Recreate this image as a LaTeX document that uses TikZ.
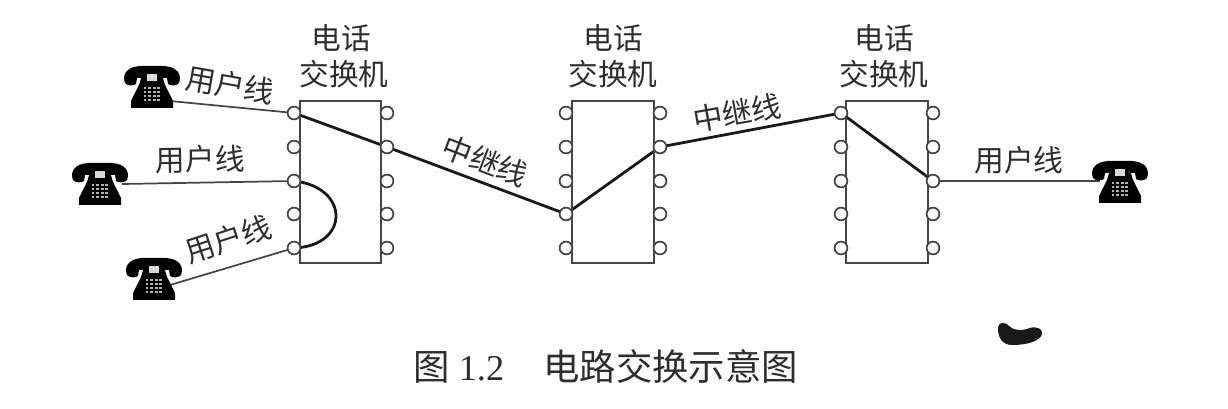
\documentclass[tikz,border=0pt]{standalone}
\usepackage{fontspec}
\setmainfont{Liberation Serif}
\newfontfamily\cjk{Noto Sans CJK SC}
\usetikzlibrary{backgrounds}
\definecolor{ink}{HTML}{2E2E2E}
\definecolor{wire}{HTML}{454545}
\tikzset{
  x=0.75pt,y=-0.75pt,
  switchbox/.style={draw=wire,line width=1.3pt,minimum width=61pt,minimum height=121.5pt,inner sep=0pt,outer sep=0pt},
  port/.style={circle,draw=wire,fill=white,line width=1.3pt,minimum size=9.6pt,inner sep=0pt,outer sep=0pt},
  thinwire/.style={draw=wire,line width=1.3pt},
  thickwire/.style={draw=black!90,line width=2.1pt},
  lbl/.style={font=\cjk\fontsize{22.3}{25}\selectfont,text=ink,inner sep=0pt},
  captext/.style={font=\fontsize{27.3}{30}\selectfont,text=ink,inner sep=0pt},
  phone/.style={minimum width=41pt,minimum height=32pt,inner sep=0pt},
}
\newcommand{\phonepic}[1]{%
  \begin{scope}[shift={(#1.center)}]
    \fill[black] (-27,-4) .. controls (-30,-12) and (-26,-20) .. (-12,-21)
      -- (12,-21) .. controls (26,-20) and (30,-12) .. (27,-4)
      .. controls (25,-1) and (18,-1) .. (16,-3) -- (15,-9) -- (-15,-9) -- (-16,-3)
      .. controls (-18,-1) and (-25,-1) .. (-27,-4) -- cycle;
    \fill[black] (-10,-12) -- (10,-12) -- (13,-2) -- (21,14) -- (21,21) -- (-21,21) -- (-21,14) -- (-13,-2) -- cycle;
    \fill[white!85!black] (-5,-13) rectangle (5,-6);
    \foreach \a in {-7,-2.4,2.2,6.8} \foreach \b in {1,5,9,13}
      \fill[white!70!black] (\a-1.4,\b-1.2) rectangle (\a+1.4,\b+1.2);
  \end{scope}}
\begin{document}
\begin{tikzpicture}
\useasboundingbox (0,0) rectangle (1228,409);
% switch boxes
\node[switchbox] (s1) at (340.5,182) {};
\node[switchbox] (s2) at (613,182) {};
\node[switchbox] (s3) at (887,182) {};
% ports
\foreach \s/\l/\r in {1/294/387,2/566/660,3/841/933}
  \foreach \i/\y in {1/113,2/147,3/181,4/214,5/248} {
    \node[port] (s\s l\i) at (\l,\y) {};
    \node[port] (s\s r\i) at (\r,\y) {};
  }
% phones
\node[phone] (ph1) at (152,87) {};
\node[phone] (ph2) at (100,184) {};
\node[phone] (ph3) at (154,279) {};
\node[phone] (ph4) at (1120,182) {};
\phonepic{ph1}\phonepic{ph2}\phonepic{ph3}\phonepic{ph4}
\coordinate (ph1w) at (170,101);
\coordinate (ph2w) at (122,184);
\coordinate (ph3w) at (170,285);
\coordinate (ph4w) at (1100,181);
% connectors
\begin{scope}[on background layer]
  \draw[thinwire] (ph1w) -- (s1l1.center);
  \draw[thinwire] (ph2w) -- (s1l3.center);
  \draw[thinwire] (ph3w) -- (s1l5.center);
  \draw[thinwire] (s3r3.center) -- (ph4w);
  \draw[thickwire] (s1l1.center) -- (s1r2.center) -- (s2l4.center) -- (s2r2.center) -- (s3l1.center) -- (s3r3.center);
  \draw[thickwire] (s1l3.center) .. controls (350,187) and (350,246) .. (s1l5.center);
\end{scope}
% labels
\node[lbl] (t1) at (341,38) {电话};
\node[lbl] (t2) at (344,74) {交换机};
\node[lbl] (t3) at (613,38) {电话};
\node[lbl] (t4) at (613,74) {交换机};
\node[lbl] (t5) at (884,38) {电话};
\node[lbl] (t6) at (884,74) {交换机};
\node[lbl,rotate=-10] (u1) at (230,85) {用户线};
\node[lbl,rotate=1] (u2) at (200,159) {用户线};
\node[lbl,rotate=18] (u3) at (228,239) {用户线};
\node[lbl] (u4) at (1019,160) {用户线};
\node[lbl,rotate=-21] (z1) at (485,161) {中继线};
\node[lbl,rotate=10] (z2) at (737,113) {中继线};
% caption
\node[captext,anchor=west] (c1) at (413,367) {{\cjk 图} 1.2};
\node[captext,anchor=west] (c2) at (543,367) {\cjk 电路交换示意图};
% ink blot
\fill[black!90] (998,329) .. controls (998,322) and (1004,321) .. (1009,326)
  .. controls (1014,331) and (1022,331) .. (1030,328)
  .. controls (1037,326) and (1043,329) .. (1042,334)
  .. controls (1040,341) and (1028,345) .. (1012,345)
  .. controls (1002,345) and (998,337) .. (998,329) -- cycle;
\end{tikzpicture}
\end{document}
